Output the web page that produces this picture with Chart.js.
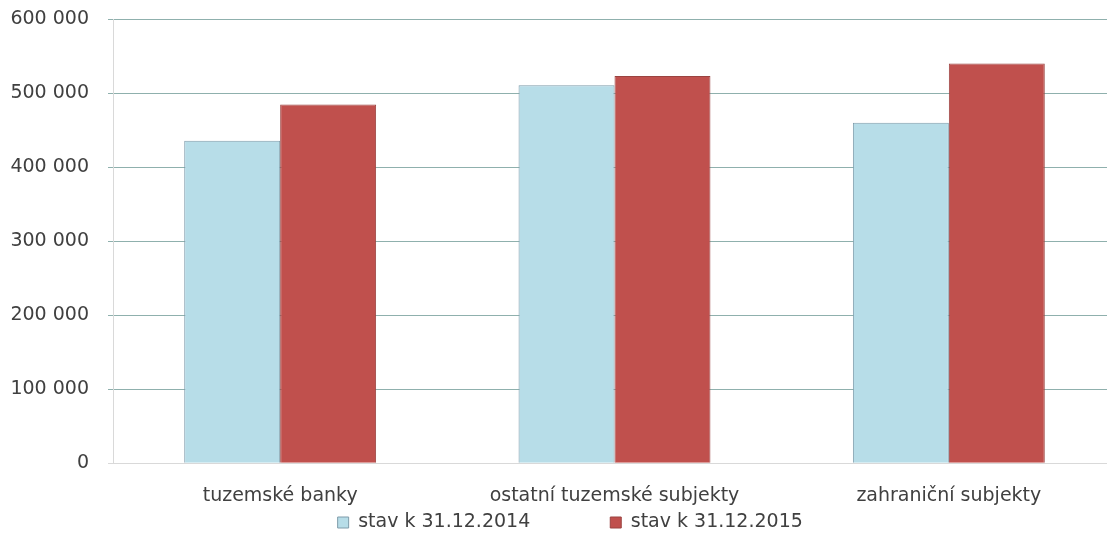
<!DOCTYPE html>
<html lang="cs">
<head>
  <meta charset="utf-8">
  <title>stav k 31.12.</title>
  <script src="https://cdn.jsdelivr.net/npm/chart.js@4/dist/chart.umd.min.js"></script>
  <style>
    html, body { margin: 0; padding: 0; background: #fff; overflow: hidden; }
    #wrap { width: 1107px; height: 548px; overflow: hidden; }
  </style>
</head>
<body>
  <!-- plot area in the source runs past the right edge, so the canvas is a bit wider than the window -->
  <div id="wrap"><canvas id="myChart" width="1116" height="548"></canvas></div>
  <script>
    // categories and series
    var categories = ['tuzemské banky', 'ostatní tuzemské subjekty', 'zahraniční subjekty'];
    var seriesNames = ['stav k 31.12.2014', 'stav k 31.12.2015'];
    var values2014 = [435500, 510500, 460000];
    var values2015 = [484500, 523000, 540000];
    var yTicks = [0, 100000, 200000, 300000, 400000, 500000, 600000];

    var font = "'DejaVu Sans', sans-serif";

    function fmt(v) {
      // space as thousands separator, like 600 000
      return String(v).replace(/\B(?=(\d{3})+(?!\d))/g, ' ');
    }

    var ctx = document.getElementById('myChart').getContext('2d');
    var chart = new Chart(ctx, {
      type: 'bar',
      data: {
        labels: categories,
        datasets: [{
          label: seriesNames[0],
          data: values2014,
          backgroundColor: '#b7dde8',
          borderColor: '#7f9cab',
          borderWidth: 1
        }, {
          label: seriesNames[1],
          data: values2015,
          backgroundColor: '#c0504d',
          borderColor: '#9a4340',
          borderWidth: 1
        }]
      },
      options: {
        responsive: false,
        animation: false,
        categoryPercentage: 0.574,
        barPercentage: 1,
        layout: { padding: { left: 0, right: 0, top: 19, bottom: 6 } },
        plugins: {
          tooltip: { enabled: false },
          legend: {
            position: 'bottom',
            labels: {
              color: '#404040',
              font: { family: font, size: 19 },
              boxWidth: 11,
              boxHeight: 11,
              padding: 4,
              generateLabels: function(c) {
                var items = Chart.defaults.plugins.legend.labels.generateLabels(c);
                items[0].text = items[0].text + '\u2003\u2003\u2003\u2003';
                // empty invisible item, nudges the row to the right like in the source
                items.unshift({ text: '', fillStyle: 'rgba(0,0,0,0)', strokeStyle: 'rgba(0,0,0,0)', lineWidth: 0, hidden: false, datasetIndex: -1 });
                return items;
              }
            }
          }
        },
        scales: {
          x: {
            grid: { display: false, drawTicks: false },
            border: { color: '#d9d9d9' },
            afterFit: function(s) { s.height -= 19; },
            ticks: { color: '#404040', font: { family: font, size: 19 }, padding: 21 }
          },
          y: {
            min: 0,
            max: 600000,
            afterFit: function(s) { s.width = 113; s.paddingTop = 0; s.paddingBottom = 0; },
            afterBuildTicks: function(s) { s.ticks = yTicks.map(function(v) { return { value: v }; }); },
            border: { color: '#d9d9d9' },
            grid: {
              color: function(c) { return c.tick && c.tick.value === 0 ? '#d9d9d9' : '#8fb0ad'; },
              tickLength: 5
            },
            ticks: {
              color: '#404040',
              font: { family: font, size: 19 },
              padding: 19,
              callback: function(v) { return fmt(v); }
            }
          }
        }
      }
    });
  </script>
</body>
</html>
